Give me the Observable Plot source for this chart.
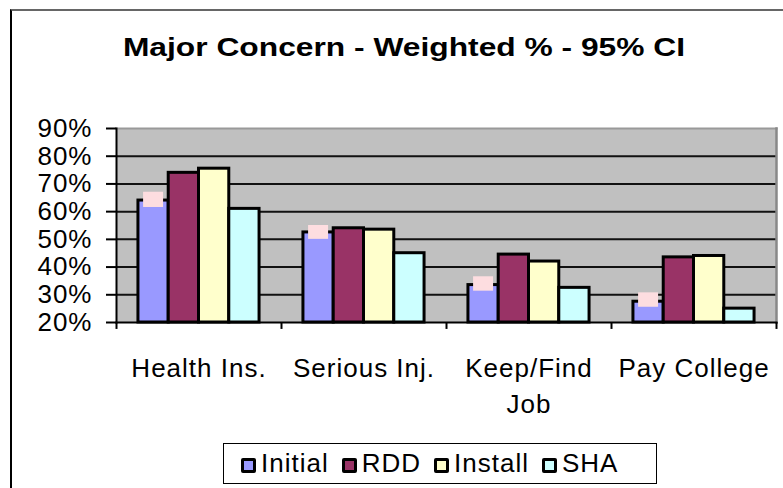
<!DOCTYPE html>
<html>
<head>
<meta charset="utf-8">
<script src="https://cdn.jsdelivr.net/npm/d3@7"></script>
<script src="https://cdn.jsdelivr.net/npm/@observablehq/plot@0.6"></script>
<style>
  html, body { margin: 0; padding: 0; background: #fff; overflow: hidden; width: 783px; height: 488px; }
  #wrap { position: relative; width: 783px; height: 488px; overflow: hidden; font-family: "Liberation Sans", Arial, sans-serif; }
  #outer { position: absolute; left: 10px; top: 9px; width: 900px; height: 600px; border: 2px solid #000; border-top-color: #666; box-sizing: border-box; }
  #title { position: absolute; left: 0; top: 34px; width: 808px; text-align: center; font-weight: bold; font-size: 25px; line-height: 26px; color: #000; transform: scaleX(1.27); transform-origin: 404px 50%; white-space: nowrap; }
  #chart { position: absolute; left: 0; top: 100px; }
  #legend { position: absolute; left: 223px; top: 443px; width: 434px; height: 41px; border: 1.5px solid #000; box-sizing: border-box; display: flex; align-items: center; padding-left: 17px; font-size: 26px; letter-spacing: 1px; color: #000; }
  .item { display: flex; align-items: center; margin-right: 13px; }
  .sw { width: 15px; height: 15px; border: 3px solid #000; border-radius: 2px; box-sizing: border-box; margin-right: 5px; margin-top: 3px; }
</style>
</head>
<body>
<div id="wrap">
  <div id="outer"></div>
  <div id="title">Major Concern - Weighted % - 95% CI</div>
  <div id="chart"></div>
  <div id="legend"></div>
</div>
<script>
const categories = ["Health Ins.", "Serious Inj.", "Keep/Find Job", "Pay College"];
const series = ["Initial", "RDD", "Install", "SHA"];
const initial = [64, 52.5, 33.5, 27.5];
const rdd = [74, 54, 44.5, 43.5];
const install = [75.5, 53.5, 42, 44];
const sha = [61, 45, 32.5, 25];
const ciLow = [61.5, 50, 31.3, 25.5];
const ciHigh = [67, 55, 36.5, 30.7];
const yTicks = [20, 30, 40, 50, 60, 70, 80, 90];
const colors = ["#9999FF", "#993366", "#FFFFCC", "#CCFFFF"];

const valuesBySeries = [initial, rdd, install, sha];
const rows = [];
series.forEach((s, si) => categories.forEach((c, ci) => rows.push({series: s, category: c, value: valuesBySeries[si][ci]})));
const ci = categories.map((c, i) => ({category: c, lo: ciLow[i], hi: ciHigh[i]}));

const W = 783, H = 330, ML = 116, MR = 7, MT = 28, MB = 108;
const bw = (W - ML - MR) / categories.length;
const groupPad = bw * 0.133;
const barW = (bw - 2 * groupPad) / series.length;

const barMarks = series.map((s, i) => Plot.barY(rows.filter(r => r.series === s), {
  x: "category", y1: () => 20, y2: "value",
  fill: colors[i], stroke: "#000", strokeWidth: 3,
  insetLeft: groupPad + i * barW, insetRight: bw - groupPad - (i + 1) * barW
}));

const chart = Plot.plot({
  width: W, height: H,
  marginLeft: ML, marginRight: MR, marginTop: MT, marginBottom: MB,
  style: {fontFamily: "'Liberation Sans', Arial, sans-serif", fontSize: "26px", letterSpacing: "1px", color: "#000", background: "transparent"},
  x: {domain: categories, padding: 0, axis: null},
  y: {domain: [20, 90], axis: null},
  marks: [
    Plot.frame({fill: "#C0C0C0", stroke: null}),
    Plot.ruleY(yTicks.slice(1, -1), {stroke: "#111", strokeWidth: 2}),
    Plot.frame({anchor: "top", stroke: "#999", strokeWidth: 2}),
    Plot.frame({anchor: "right", stroke: "#888", strokeWidth: 2.5}),
    ...barMarks,
    Plot.barY(ci, {x: "category", y1: "lo", y2: "hi", fill: "#FDDDE0",
      insetLeft: groupPad + 0.17 * barW, insetRight: bw - groupPad - 0.83 * barW}),
    Plot.frame({anchor: "left", stroke: "#000", strokeWidth: 2}),
    Plot.frame({anchor: "bottom", stroke: "#000", strokeWidth: 2}),
    Plot.axisY({ticks: yTicks, tickFormat: d => d + "%", tickSize: 10, tickPadding: 14, stroke: "#000", strokeWidth: 2, fontSize: 26, fill: "#000", label: null}),
    Plot.ruleX(categories, {x: d => d, y1: () => 20, y2: () => 17.5, dx: -bw / 2, stroke: "#000", strokeWidth: 2}),
    Plot.ruleX(categories.slice(-1), {x: d => d, y1: () => 20, y2: () => 17.5, dx: bw / 2, stroke: "#000", strokeWidth: 2}),
    Plot.axisX({tickSize: 0, tickPadding: 30, fontSize: 26, fill: "#000", lineHeight: 1.35, label: null,
      tickFormat: d => d === "Keep/Find Job" ? "Keep/Find\nJob" : d})
  ]
});
document.getElementById("chart").appendChild(chart);

const legend = document.getElementById("legend");
series.forEach((s, i) => {
  const it = document.createElement("div");
  it.className = "item";
  const sw = document.createElement("div");
  sw.className = "sw";
  sw.style.background = colors[i];
  const tx = document.createElement("span");
  tx.textContent = s;
  it.appendChild(sw); it.appendChild(tx);
  legend.appendChild(it);
});
</script>
</body>
</html>
